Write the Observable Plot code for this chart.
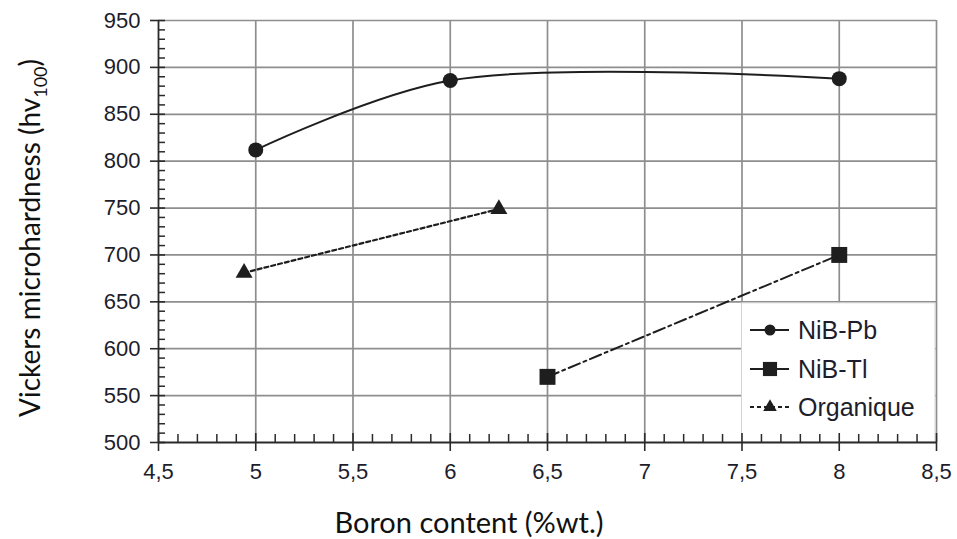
<!DOCTYPE html>
<html>
<head>
<meta charset="utf-8">
<script src="https://cdn.jsdelivr.net/npm/d3@7"></script>
<script src="https://cdn.jsdelivr.net/npm/@observablehq/plot@0.6"></script>
<style>
  body { margin: 0; background: #fff; }
  #chart { width: 957px; height: 539px; }
</style>
</head>
<body>
<div id="chart"></div>
<script>
// ---- data ----
const seriesNames = ["NiB-Pb", "NiB-Tl", "Organique"];
const pbBoron = [5, 6, 8];
const pbHardness = [812, 886, 888];
const tlBoron = [6.5, 8];
const tlHardness = [570, 700];
const orgBoron = [4.94, 6.25];
const orgHardness = [681, 749];
const xTicks = [4.5, 5, 5.5, 6, 6.5, 7, 7.5, 8, 8.5];
const yTicks = [500, 550, 600, 650, 700, 750, 800, 850, 900, 950];
const xTitle = "Boron content (%wt.)";
const yTitleMain = "Vickers microhardness (hv";
const yTitleSub = "100";

// minor tick positions (every 0.1 on x, every 10 on y)
const xMinor = d3.range(45, 86).map(d => d / 10).filter(d => Math.round(d * 10) % 5 !== 0);
const yMinor = d3.range(50, 96).map(d => d * 10).filter(d => d % 50 !== 0);

const pb = pbBoron.map((b, i) => ({boron: b, hardness: pbHardness[i]}));
const tl = tlBoron.map((b, i) => ({boron: b, hardness: tlHardness[i]}));
const org = orgBoron.map((b, i) => ({boron: b, hardness: orgHardness[i]}));

const ink = "#1e1e1e";
const gridColor = "#8e8e8e";
const axisColor = "#2a2a2a";
const labelColor = "#1d1d2b";
const fmt = d => String(d).replace(".", ",");

const plot = Plot.plot({
  width: 957,
  height: 539,
  marginLeft: 158,
  marginRight: 21,
  marginTop: 20,
  marginBottom: 97,
  x: {domain: [4.5, 8.5], label: null},
  y: {domain: [500, 950], label: null},
  style: {
    fontFamily: "'Liberation Sans', Arial, sans-serif",
    fontSize: "22px",
    color: labelColor,
    background: "white"
  },
  marks: [
    Plot.gridX(xTicks.filter(d => d > 4.5), {stroke: gridColor, strokeOpacity: 1, strokeWidth: 1.7}),
    Plot.gridY(yTicks.filter(d => d > 500), {stroke: gridColor, strokeOpacity: 1, strokeWidth: 1.7}),
    // legend background box
    Plot.rect([0], {x1: 7.5, x2: 8.5, y1: 500, y2: 650, insetTop: 1.5, insetRight: 1, fill: "white", stroke: "#d4d4d4", strokeWidth: 1}),
    // axis lines
    Plot.ruleX([4.5], {stroke: axisColor, strokeWidth: 1.8}),
    Plot.ruleY([500], {stroke: axisColor, strokeWidth: 1.8}),
    // major ticks (crossing the axis)
    Plot.ruleX(xTicks, {x: d => d, y1: 500, y2: 500, insetTop: -9, insetBottom: -9, stroke: axisColor, strokeWidth: 1.6}),
    Plot.ruleY(yTicks, {y: d => d, x1: 4.5, x2: 4.5, insetLeft: -8, insetRight: -7, stroke: axisColor, strokeWidth: 1.6}),
    // minor ticks (inward)
    Plot.ruleX(xMinor, {x: d => d, y1: 500, y2: 500, insetTop: -8, insetBottom: 0, stroke: axisColor, strokeWidth: 1.5}),
    Plot.ruleY(yMinor, {y: d => d, x1: 4.5, x2: 4.5, insetLeft: 0, insetRight: -7, stroke: axisColor, strokeWidth: 1.5}),
    // tick labels
    Plot.axisX({ticks: xTicks, tickSize: 0, tickPadding: 21, tickFormat: fmt, label: null, fontSize: 22, fill: labelColor}),
    Plot.axisY({ticks: yTicks, tickSize: 0, tickPadding: 18, label: null, fontSize: 22, fill: labelColor}),
    // series
    Plot.line(pb, {x: "boron", y: "hardness", curve: "catmull-rom", stroke: ink, strokeWidth: 2}),
    Plot.line(tl, {x: "boron", y: "hardness", stroke: ink, strokeWidth: 2, strokeDasharray: "12,4,3,4"}),
    Plot.line(org, {x: "boron", y: "hardness", stroke: ink, strokeWidth: 2.2, strokeDasharray: "4,3"}),
    Plot.dot(pb, {x: "boron", y: "hardness", r: 7.5, fill: ink, symbol: "circle"}),
    Plot.dot(tl, {x: "boron", y: "hardness", r: 9, fill: ink, symbol: "square"}),
    Plot.dot(org, {x: "boron", y: "hardness", r: 6.3, fill: ink, symbol: "triangle"})
  ]
});

document.getElementById("chart").appendChild(plot);

// ---- titles and legend ----
const svg = d3.select(plot);

// x title
svg.append("text")
  .attr("x", 469).attr("y", 533)
  .attr("text-anchor", "middle")
  .attr("font-family", "Lato, 'Open Sans', sans-serif")
  .attr("font-size", 29)
  .attr("fill", "#111")
  .text(xTitle);

// y title with subscript
const yt = svg.append("text")
  .attr("transform", "translate(40,238) rotate(-90)")
  .attr("text-anchor", "middle")
  .attr("font-family", "Lato, 'Open Sans', sans-serif")
  .attr("font-size", 28)
  .attr("fill", "#111");
yt.append("tspan").text(yTitleMain);
yt.append("tspan").attr("font-size", 18).attr("dy", 7).text(yTitleSub);
yt.append("tspan").attr("dy", -7).text(")");

// legend
const legendRows = [
  {name: seriesNames[0], y: 330, symbol: d3.symbolCircle, size: 95, dash: null},
  {name: seriesNames[1], y: 369, symbol: d3.symbolSquare, size: 200, dash: null},
  {name: seriesNames[2], y: 407, symbol: d3.symbolTriangle, size: 80, dash: "4,3"}
];
const lg = svg.append("g").attr("text-anchor", "start");
legendRows.forEach(r => {
  lg.append("line")
    .attr("x1", 750).attr("x2", 789).attr("y1", r.y).attr("y2", r.y)
    .attr("stroke", ink).attr("stroke-width", 2)
    .attr("stroke-dasharray", r.dash);
  lg.append("path")
    .attr("transform", `translate(770,${r.y})`)
    .attr("d", d3.symbol(r.symbol, r.size)())
    .attr("fill", ink);
  lg.append("text")
    .attr("x", 798).attr("y", r.y).attr("dy", "0.36em")
    .attr("text-anchor", "start")
    .attr("font-family", "'Liberation Sans', Arial, sans-serif")
    .attr("font-size", 25)
    .attr("fill", labelColor)
    .text(r.name);
});
</script>
</body>
</html>
